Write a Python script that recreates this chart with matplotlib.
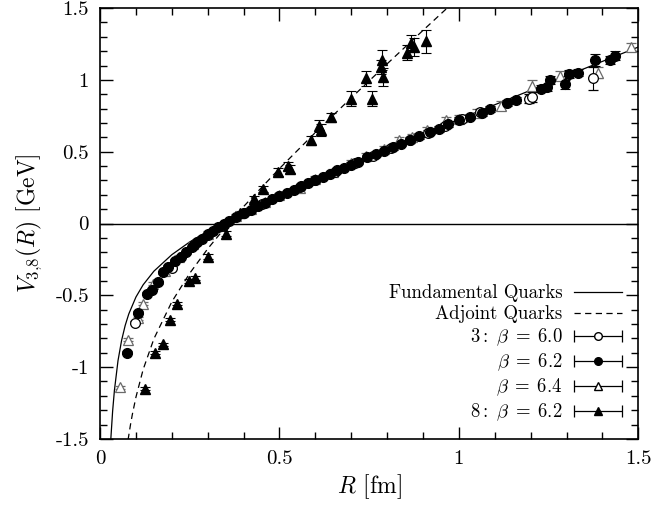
import numpy as np
import matplotlib
matplotlib.use("Agg")
import matplotlib.pyplot as plt
from matplotlib.ticker import MultipleLocator
from matplotlib.legend_handler import HandlerErrorbar

# --------------------------------------------------------------------------------
# DATA

# fit curves
fund_R = [0.030, 0.035, 0.040, 0.050, 0.060, 0.070, 0.080, 0.100, 0.120, 0.150, 0.200, 0.250,
          0.300, 0.400, 0.500, 0.600, 0.700, 0.800, 0.900, 1.000, 1.100, 1.200, 1.300, 1.400, 1.500]
fund_V = [-1.500, -1.307, -1.162, -0.955, -0.814, -0.710, -0.630, -0.512, -0.427, -0.332, -0.217, -0.128,
          -0.053, 0.078, 0.196, 0.307, 0.414, 0.520, 0.623, 0.726, 0.827, 0.928, 1.029, 1.129, 1.229]

adj_R = [0.078, 0.085, 0.090, 0.100, 0.120, 0.150, 0.200, 0.250, 0.300, 0.350, 0.400, 0.500,
         0.600, 0.700, 0.800, 0.900, 1.000]
adj_V = [-1.507, -1.398, -1.329, -1.209, -1.017, -0.803, -0.545, -0.346, -0.176, -0.024, 0.118, 0.383,
         0.634, 0.875, 1.112, 1.345, 1.576]

# 3 : beta = 6.0  (open circles)
b60_R = [0.097, 0.200, 0.262, 0.300, 0.345, 0.400, 0.452, 0.500, 0.556, 0.600, 0.655, 0.710,
         0.760, 0.810, 0.865, 0.915, 0.960, 1.010, 1.060, 1.194, 1.203, 1.375]
b60_V = [-0.69, -0.31, -0.15, -0.08, -0.01, 0.07, 0.135, 0.19, 0.255, 0.30, 0.36, 0.42,
         0.47, 0.525, 0.58, 0.63, 0.68, 0.73, 0.775, 0.87, 0.88, 1.01]
b60_err = [0.01, 0.01, 0.01, 0.01, 0.01, 0.01, 0.01, 0.01, 0.015, 0.015, 0.015, 0.015,
           0.02, 0.02, 0.02, 0.02, 0.02, 0.025, 0.025, 0.03, 0.035, 0.08]

# beta = 6.2  (filled circles)
b62_R = [0.074, 0.106, 0.130, 0.144, 0.162, 0.175, 0.190, 0.210, 0.225, 0.240, 0.255, 0.270,
         0.285, 0.300, 0.315, 0.330, 0.345, 0.360, 0.380, 0.400, 0.420, 0.440, 0.460, 0.480,
         0.500, 0.520, 0.540, 0.560, 0.580, 0.600, 0.620, 0.640, 0.660, 0.680, 0.700, 0.720,
         0.745, 0.770, 0.790, 0.815, 0.840, 0.865, 0.890, 0.920, 0.945, 0.970, 1.000, 1.030,
         1.065, 1.088, 1.134, 1.158, 1.228, 1.245, 1.255, 1.296, 1.306, 1.333, 1.380, 1.422, 1.436]
b62_V = [-0.90, -0.62, -0.49, -0.46, -0.41, -0.34, -0.30, -0.26, -0.23, -0.20, -0.165, -0.13,
         -0.105, -0.075, -0.05, -0.025, 0.0, 0.02, 0.045, 0.07, 0.095, 0.12, 0.145, 0.17,
         0.19, 0.215, 0.235, 0.26, 0.28, 0.30, 0.325, 0.345, 0.37, 0.39, 0.41, 0.43,
         0.46, 0.485, 0.505, 0.53, 0.555, 0.58, 0.61, 0.64, 0.66, 0.69, 0.72, 0.745,
         0.77, 0.80, 0.84, 0.86, 0.94, 0.95, 1.00, 0.97, 1.04, 1.05, 1.14, 1.14, 1.17]
b62_err = [0.01, 0.01, 0.01, 0.01, 0.01, 0.01, 0.01, 0.01, 0.01, 0.01, 0.01, 0.01,
           0.01, 0.01, 0.01, 0.01, 0.01, 0.01, 0.01, 0.01, 0.01, 0.01, 0.01, 0.01,
           0.01, 0.01, 0.01, 0.012, 0.012, 0.012, 0.012, 0.012, 0.012, 0.012, 0.015, 0.015,
           0.015, 0.015, 0.015, 0.015, 0.015, 0.015, 0.02, 0.02, 0.02, 0.02, 0.02, 0.02,
           0.02, 0.02, 0.02, 0.02, 0.025, 0.025, 0.025, 0.03, 0.03, 0.025, 0.04, 0.03, 0.03]

# beta = 6.4  (open triangles)
b64_R = [0.056, 0.078, 0.106, 0.120, 0.148, 0.180, 0.220, 0.260, 0.300, 0.340, 0.380, 0.420,
         0.460, 0.500, 0.556, 0.600, 0.648, 0.700, 0.740, 0.790, 0.833, 0.870, 0.910, 0.963,
         1.000, 1.050, 1.116, 1.203, 1.283, 1.389, 1.480]
b64_V = [-1.14, -0.81, -0.66, -0.56, -0.42, -0.33, -0.23, -0.14, -0.07, -0.01, 0.05, 0.10,
         0.15, 0.20, 0.25, 0.31, 0.36, 0.42, 0.47, 0.52, 0.58, 0.60, 0.65, 0.72,
         0.73, 0.77, 0.82, 0.96, 1.03, 1.05, 1.23]
b64_err = [0.01, 0.01, 0.01, 0.01, 0.01, 0.01, 0.01, 0.01, 0.015, 0.015, 0.015, 0.015,
           0.015, 0.015, 0.02, 0.02, 0.02, 0.02, 0.02, 0.02, 0.025, 0.025, 0.025, 0.025,
           0.025, 0.03, 0.03, 0.04, 0.03, 0.04, 0.03]

# 8 : beta = 6.2  (filled triangles)
a62_R = [0.125, 0.153, 0.175, 0.194, 0.215, 0.248, 0.264, 0.300, 0.352, 0.389, 0.430, 0.453,
         0.495, 0.523, 0.528, 0.588, 0.611, 0.616, 0.644, 0.700, 0.740, 0.759, 0.783, 0.785,
         0.789, 0.856, 0.867, 0.875, 0.908]
a62_V = [-1.15, -0.90, -0.84, -0.67, -0.56, -0.40, -0.38, -0.23, -0.07, 0.07, 0.17, 0.24,
         0.36, 0.40, 0.38, 0.58, 0.68, 0.65, 0.74, 0.87, 1.01, 0.87, 1.09, 1.14,
         1.02, 1.19, 1.26, 1.23, 1.27]
a62_err = [0.01, 0.01, 0.01, 0.01, 0.01, 0.015, 0.015, 0.015, 0.02, 0.02, 0.02, 0.02,
           0.03, 0.03, 0.03, 0.03, 0.04, 0.04, 0.03, 0.05, 0.05, 0.05, 0.05, 0.07,
           0.06, 0.05, 0.05, 0.06, 0.08]

legend_labels = ["Fundamental Quarks", "Adjoint Quarks", r"$3:\ \beta\;=\;6.0$",
                 r"$\beta\;=\;6.2$", r"$\beta\;=\;6.4$", r"$8:\ \beta\;=\;6.2$"]

# --------------------------------------------------------------------------------
# PLOT

plt.rcParams["font.family"] = "cmr10"
plt.rcParams["mathtext.fontset"] = "cm"
plt.rcParams["axes.formatter.use_mathtext"] = True

fig = plt.figure(figsize=(6.54, 5.08), dpi=100)
ax = fig.add_axes([0.153, 0.136, 0.823, 0.848])

ax.axhline(0, color="black", lw=1.0, zorder=1)
l1, = ax.plot(fund_R, fund_V, color="black", lw=0.9, zorder=2)
l2, = ax.plot(adj_R, adj_V, color="black", lw=0.9, ls=(0, (5, 3.5)), zorder=2)

gray = "#6a6a6a"
kw = dict(capsize=3.5, elinewidth=0.8, capthick=0.8, ms=7, ls="none", zorder=3)
ax.errorbar(b64_R, b64_V, yerr=b64_err, fmt="^", mfc="white", mec=gray, ecolor=gray, mew=0.9, **kw)
ax.errorbar(b60_R, b60_V, yerr=b60_err, fmt="o", mfc="white", mec="black", ecolor="black", mew=0.9, **kw)
ax.errorbar(b62_R, b62_V, yerr=b62_err, fmt="o", mfc="black", mec="black", ecolor="black", **kw)
ax.errorbar(a62_R, a62_V, yerr=a62_err, fmt="^", mfc="black", mec="black", ecolor="black", **kw)

# legend samples in gnuplot style (horizontal bar with caps), nothing drawn in the axes
lkw = dict(capsize=4, elinewidth=0.9, capthick=0.9, ms=5.5, ls="none")
nan = [np.nan]
h3 = ax.errorbar(nan, nan, xerr=[0.1], fmt="o", mfc="white", mec="black", ecolor="black", **lkw)
h4 = ax.errorbar(nan, nan, xerr=[0.1], fmt="o", mfc="black", mec="black", ecolor="black", **lkw)
h5 = ax.errorbar(nan, nan, xerr=[0.1], fmt="^", mfc="white", mec="black", ecolor="black", **lkw)
h6 = ax.errorbar(nan, nan, xerr=[0.1], fmt="^", mfc="black", mec="black", ecolor="black", **lkw)

ax.legend([l1, l2, h3, h4, h5, h6], legend_labels, loc="lower right", frameon=False,
          markerfirst=False, fontsize=13.5, handlelength=2.6, handletextpad=0.6,
          labelspacing=0.18, borderaxespad=0.45,
          handler_map={type(h3): HandlerErrorbar(xerr_size=1.3)})

ax.set_xlim(0, 1.5)
ax.set_ylim(-1.5, 1.5)
ax.set_xticks([0, 0.5, 1, 1.5], labels=["0", "0.5", "1", "1.5"])
ax.set_yticks([-1.5, -1, -0.5, 0, 0.5, 1, 1.5], labels=["-1.5", "-1", "-0.5", "0", "0.5", "1", "1.5"])
ax.xaxis.set_minor_locator(MultipleLocator(0.1))
ax.yaxis.set_minor_locator(MultipleLocator(0.1))
ax.tick_params(which="both", direction="in", top=True, right=True, labelsize=15, width=1.0)
ax.tick_params(which="major", length=9, pad=8)
ax.tick_params(which="minor", length=5)
for s in ax.spines.values():
    s.set_linewidth(1.2)

ax.set_xlabel(r"$R$ [fm]", fontsize=17, labelpad=3)
ax.set_ylabel(r"$V_{3{,}8}(R)$ [GeV]", fontsize=17, labelpad=8)

fig.savefig("out.png", dpi=100)
